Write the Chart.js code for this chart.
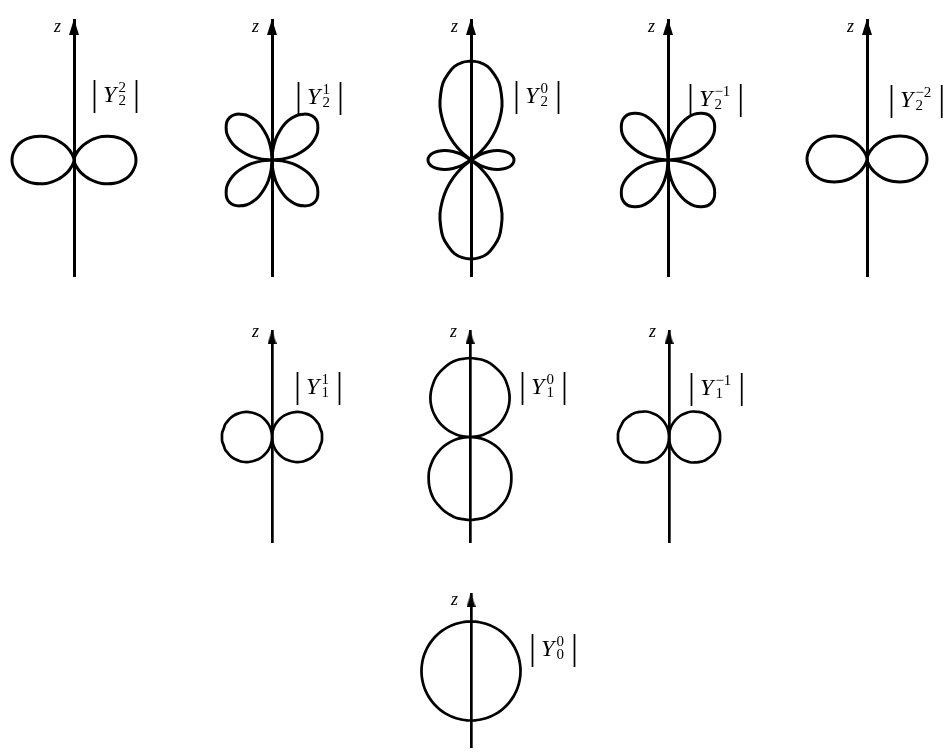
<!DOCTYPE html>
<html>
<head>
<meta charset="utf-8">
<script src="https://cdn.jsdelivr.net/npm/chart.js@4.4.1/dist/chart.umd.min.js"></script>
<style>
  html, body { margin: 0; padding: 0; background: #fff; }
  #page { position: relative; width: 946px; height: 754px; overflow: hidden; background: #fff; }
  #page canvas { position: absolute; }
  .zlbl { position: absolute; font-family: 'Liberation Serif', serif; font-style: italic; font-size: 18px; line-height: 1; color: #000; }
  .ylbl { position: absolute; display: flex; align-items: center; font-family: 'Liberation Serif', serif; line-height: 1; color: #000; white-space: nowrap; }
  .ylbl .bar { font-size: 35px; }
  .ylbl .sym { font-style: italic; font-size: 24px; margin-left: 5px; }
  .ylbl .idx { display: flex; flex-direction: column; font-size: 15px; line-height: 13px; margin: 0 7px 0 2px; }
</style>
</head>
<body>
<div id="page"></div>
<script>
// polar angle measured from +z, degrees (right half; left half is the mirror image)
const thetaDeg = [0, 5, 10, 15, 20, 25, 30, 35, 40, 45, 50, 55, 60, 65, 70, 75, 80, 85, 90,
                  95, 100, 105, 110, 115, 120, 125, 130, 135, 140, 145, 150, 155, 160, 165, 170, 175, 180];

// |Y_l^m| radius at each angle
const r22 = [0, 0.5, 2, 4, 7, 11, 15.5, 20, 25.5, 31, 36.5, 41.5, 46.5, 51, 55, 58, 60, 61.5, 62,
             61.5, 60, 58, 55, 51, 46.5, 41.5, 36.5, 31, 25.5, 20, 15.5, 11, 7, 4, 2, 0.5, 0];
const r21 = [0, 10, 21, 30, 39, 46, 52, 56, 59, 60, 59, 56, 52, 46, 39, 30, 21, 10, 0,
             10, 21, 30, 39, 46, 52, 56, 59, 60, 59, 56, 52, 46, 39, 30, 21, 10, 0];
const r20 = [99, 98, 95, 89, 82, 72, 62, 50, 38, 25, 12, 0, 11, 20, 28, 34, 39, 42, 43,
             42, 39, 34, 28, 20, 11, 0, 12, 25, 38, 50, 62, 72, 82, 89, 95, 98, 99];
const r2m1 = [0, 10.5, 21, 30.5, 39, 47, 53, 57, 60, 61, 60, 57, 53, 47, 39, 30.5, 21, 10.5, 0,
              10.5, 21, 30.5, 39, 47, 53, 57, 60, 61, 60, 57, 53, 47, 39, 30.5, 21, 10.5, 0];
const r2m2 = [0, 0.5, 2, 4, 7, 10.5, 15, 19.5, 25, 30, 35, 40, 45, 49.5, 53, 56, 58, 59.5, 60,
              59.5, 58, 56, 53, 49.5, 45, 40, 35, 30, 25, 19.5, 15, 10.5, 7, 4, 2, 0.5, 0];
const r11 = [0, 4.5, 8.5, 13, 17, 21, 25, 28.5, 32, 35.5, 38.5, 41, 43.5, 45.5, 47, 48.5, 49, 50, 50,
             50, 49, 48.5, 47, 45.5, 43.5, 41, 38.5, 35.5, 32, 28.5, 25, 21, 17, 13, 8.5, 4.5, 0];
const r10 = [79, 78.5, 78, 76.5, 74, 71.5, 68.5, 64.5, 60.5, 56, 51, 45.5, 39.5, 33.5, 27, 20.5, 13.5, 7, 0,
             7, 14.5, 21.5, 28.5, 35, 41.5, 47.5, 53.5, 58.5, 63.5, 68, 72, 75, 78, 80, 82, 82.5, 83];
const r1m1 = [0, 4.5, 9, 13, 17.5, 21.5, 25.5, 29, 33, 36, 39, 42, 44, 46, 48, 49, 50, 51, 51,
              51, 50, 49, 48, 46, 44, 42, 39, 36, 33, 29, 25.5, 21.5, 17.5, 13, 9, 4.5, 0];
const r00 = [49.5, 49.5, 49.5, 49.5, 49.5, 49.5, 49.5, 49.5, 49.5, 49.5, 49.5, 49.5, 49.5, 49.5, 49.5, 49.5, 49.5, 49.5, 49.5,
             49.5, 49.5, 49.5, 49.5, 49.5, 49.5, 49.5, 49.5, 49.5, 49.5, 49.5, 49.5, 49.5, 49.5, 49.5, 49.5, 49.5, 49.5];

const series = [r22, r21, r20, r2m1, r2m2, r11, r10, r1m1, r00];
const degreeL = ['2', '2', '2', '2', '2', '1', '1', '1', '0'];
const orderM = ['2', '1', '0', '\u22121', '\u22122', '1', '0', '\u22121', '0'];

// page placement of each small plot (axis x, origin y, arrow tip, axis end, label corner)
const layout = [
  {ax: 74,  oy: 160, tip: 19,  bottom: 277, half: 72, lw: 3,   lx: 91,  ly: 76,  row: 0},
  {ax: 272, oy: 160, tip: 19,  bottom: 277, half: 72, lw: 3,   lx: 295, ly: 78,  row: 0},
  {ax: 471, oy: 160, tip: 19,  bottom: 277, half: 72, lw: 3,   lx: 513, ly: 77,  row: 0},
  {ax: 668, oy: 160, tip: 19,  bottom: 277, half: 72, lw: 3,   lx: 687, ly: 80,  row: 0},
  {ax: 867, oy: 159, tip: 19,  bottom: 277, half: 72, lw: 3,   lx: 888, ly: 81,  row: 0},
  {ax: 272, oy: 437, tip: 330, bottom: 543, half: 60, lw: 2.7, lx: 294, ly: 368, row: 1},
  {ax: 470, oy: 437, tip: 330, bottom: 543, half: 60, lw: 2.7, lx: 519, ly: 368, row: 1},
  {ax: 669, oy: 437, tip: 330, bottom: 543, half: 60, lw: 2.7, lx: 688, ly: 369, row: 1},
  {ax: 471, oy: 671, tip: 593, bottom: 748, half: 60, lw: 2.7, lx: 529, ly: 630, row: 2}
];
const zTop = [17, 322, 590];

const page = document.getElementById('page');

function makeArrow(w, h) {
  // arrow head drawn in the lower half so its tip sits on the point
  const c = document.createElement('canvas');
  c.width = w;
  c.height = h * 2;
  const ctx = c.getContext('2d');
  ctx.fillStyle = '#000';
  ctx.beginPath();
  ctx.moveTo(w / 2, h);
  ctx.lineTo(w, h * 2);
  ctx.lineTo(0, h * 2);
  ctx.closePath();
  ctx.fill();
  return c;
}

function polarPoints(radii) {
  const right = radii.map((r, i) => {
    const t = thetaDeg[i] * Math.PI / 180;
    return {x: r * Math.sin(t), y: r * Math.cos(t)};
  });
  const left = right.slice(0, -1).reverse().map(p => ({x: -p.x, y: p.y}));
  return right.concat(left);
}

series.forEach((radii, i) => {
  const p = layout[i];
  const w = p.half * 2;
  const h = p.bottom - p.tip;
  const canvas = document.createElement('canvas');
  canvas.width = w;
  canvas.height = h;
  canvas.style.left = (p.ax - p.half) + 'px';
  canvas.style.top = p.tip + 'px';
  canvas.style.width = w + 'px';
  canvas.style.height = h + 'px';
  page.appendChild(canvas);

  const yMax = p.oy - p.tip;
  const yMin = p.oy - p.bottom;
  const arrow = p.row === 0 ? makeArrow(10, 16) : makeArrow(9, 14);

  new Chart(canvas, {
    type: 'scatter',
    data: {
      datasets: [{
        data: polarPoints(radii),
        showLine: true,
        borderColor: '#000',
        borderWidth: p.lw,
        pointRadius: 0,
        tension: 0.4,
        fill: false
      }, {
        data: [{x: 0, y: yMax}],
        pointStyle: arrow,
        pointRadius: 6,
        clip: false
      }]
    },
    options: {
      responsive: false,
      animation: false,
      events: [],
      layout: {padding: 0, autoPadding: false},
      plugins: {legend: {display: false}, tooltip: {enabled: false}},
      scales: {
        x: {type: 'linear', min: -p.half, max: p.half, display: false},
        y: {
          type: 'linear',
          min: yMin,
          max: yMax,
          position: {x: 0},
          grid: {display: false},
          ticks: {display: false},
          border: {display: true, color: '#000', width: p.lw}
        }
      }
    }
  });

  const z = document.createElement('div');
  z.className = 'zlbl';
  z.textContent = 'z';
  z.style.left = (p.ax - 20) + 'px';
  z.style.top = zTop[p.row] + 'px';
  page.appendChild(z);

  const lab = document.createElement('div');
  lab.className = 'ylbl';
  lab.style.left = p.lx + 'px';
  lab.style.top = p.ly + 'px';
  lab.innerHTML = '<span class="bar">|</span><span class="sym">Y</span>' +
    '<span class="idx"><span>' + orderM[i] + '</span><span>' + degreeL[i] + '</span></span>' +
    '<span class="bar">|</span>';
  page.appendChild(lab);
});
</script>
</body>
</html>
